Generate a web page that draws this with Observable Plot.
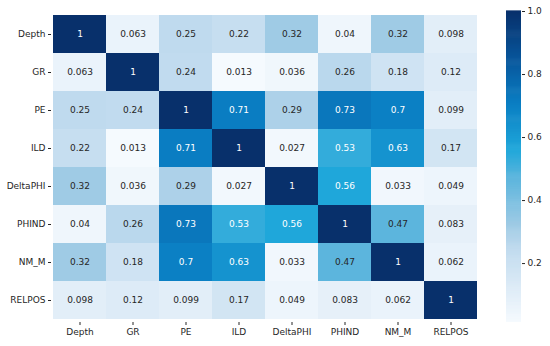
<!DOCTYPE html>
<html>
<head>
<meta charset="utf-8">
<script src="https://cdn.jsdelivr.net/npm/d3@7"></script>
<script src="https://cdn.jsdelivr.net/npm/@observablehq/plot@0.6"></script>
<style>
  html, body { margin: 0; padding: 0; background: #fff; }
  #wrap { position: relative; width: 550px; height: 346px; font-family: "DejaVu Sans", sans-serif; }
  #main, #bar { position: absolute; top: 0; }
  #main { left: 0; }
  #bar { left: 480px; }
  svg { overflow: visible; }
</style>
</head>
<body>
<div id="wrap"><div id="main"></div><div id="bar"></div></div>
<script>
const variables = ["Depth", "GR", "PE", "ILD", "DeltaPHI", "PHIND", "NM_M", "RELPOS"];
const depthRow    = [1, 0.063, 0.25, 0.22, 0.32, 0.04, 0.32, 0.098];
const grRow       = [0.063, 1, 0.24, 0.013, 0.036, 0.26, 0.18, 0.12];
const peRow       = [0.25, 0.24, 1, 0.71, 0.29, 0.73, 0.7, 0.099];
const ildRow      = [0.22, 0.013, 0.71, 1, 0.027, 0.53, 0.63, 0.17];
const deltaPhiRow = [0.32, 0.036, 0.29, 0.027, 1, 0.56, 0.033, 0.049];
const phindRow    = [0.04, 0.26, 0.73, 0.53, 0.56, 1, 0.47, 0.083];
const nmMRow      = [0.32, 0.18, 0.7, 0.63, 0.033, 0.47, 1, 0.062];
const relposRow   = [0.098, 0.12, 0.099, 0.17, 0.049, 0.083, 0.062, 1];
const colorbarTicks = [0.2, 0.4, 0.6, 0.8, 1.0];

const rows = [depthRow, grRow, peRow, ildRow, deltaPhiRow, phindRow, nmMRow, relposRow];
const cells = [];
rows.forEach((r, i) => r.forEach((v, j) => cells.push({row: variables[i], col: variables[j], value: v})));

const vmin = d3.min(cells, d => d.value);
const vmax = d3.max(cells, d => d.value);

// colour ramp (style)
const rampDomain = [vmin, 0.1, 0.25, 0.32, 0.47, 0.56, 0.71, 0.85, 1];
const rampRange  = ["#f5fafe", "#e2eef8", "#bfdaee", "#9fcbe5", "#5cb5dd", "#1fa7da", "#0a7dc2", "#08559a", "#08306b"];
const colorScale = {type: "linear", domain: rampDomain, range: rampRange, interpolate: "rgb"};

const main = Plot.plot({
  width: 480, height: 346,
  marginLeft: 51, marginRight: 2, marginTop: 11, marginBottom: 24,
  style: {fontFamily: "DejaVu Sans, sans-serif", fontSize: "9px", color: "#262626", background: "transparent"},
  x: {domain: variables, padding: 0, label: null, tickSize: 3, tickPadding: 3},
  y: {domain: variables, padding: 0, label: null, tickSize: 3, tickPadding: 3},
  color: colorScale,
  marks: [
    Plot.cell(cells, {x: "col", y: "row", fill: "value"}),
    Plot.text(cells, {x: "col", y: "row", text: d => String(d.value),
      fill: d => d.value > 0.5 ? "#ffffff" : "#262626", fontSize: 9})
  ]
});
document.getElementById("main").appendChild(main);

const nSteps = 300;
const slices = d3.range(nSteps).map(i => ({
  y1: vmin + (vmax - vmin) * i / nSteps,
  y2: vmin + (vmax - vmin) * (i + 1) / nSteps
}));

const bar = Plot.plot({
  width: 70, height: 346,
  marginLeft: 26, marginRight: 29, marginTop: 11, marginBottom: 24,
  style: {fontFamily: "DejaVu Sans, sans-serif", fontSize: "9px", color: "#262626", background: "transparent"},
  y: {domain: [vmin, vmax], axis: "right", ticks: colorbarTicks, tickFormat: d3.format(".1f"), label: null, tickSize: 3, tickPadding: 3},
  color: colorScale,
  marks: [
    Plot.rect(slices, {y1: "y1", y2: d => d.y2 + 0.002, fill: d => (d.y1 + d.y2) / 2})
  ]
});
document.getElementById("bar").appendChild(bar);
</script>
</body>
</html>
